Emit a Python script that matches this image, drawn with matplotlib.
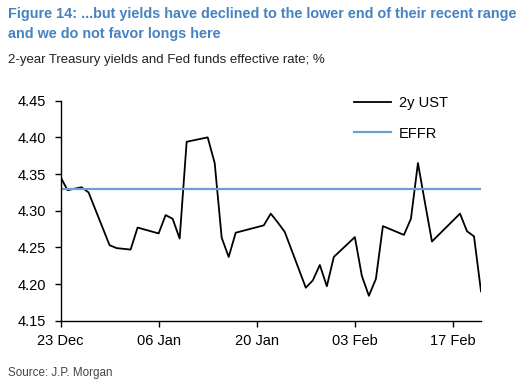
import matplotlib
matplotlib.use("Agg")
import matplotlib.pyplot as plt
import matplotlib.dates as mdates
import pandas as pd

plt.rcParams['font.family'] = ['Liberation Sans', 'DejaVu Sans']

dates = [
    "2024-12-23", "2024-12-24", "2024-12-26", "2024-12-27", "2024-12-30",
    "2024-12-31", "2025-01-02", "2025-01-03", "2025-01-06", "2025-01-07",
    "2025-01-08", "2025-01-09", "2025-01-10", "2025-01-13", "2025-01-14",
    "2025-01-15", "2025-01-16", "2025-01-17", "2025-01-21", "2025-01-22",
    "2025-01-23", "2025-01-24", "2025-01-27", "2025-01-28", "2025-01-29",
    "2025-01-30", "2025-01-31", "2025-02-03", "2025-02-04", "2025-02-05",
    "2025-02-06", "2025-02-07", "2025-02-10", "2025-02-11", "2025-02-12",
    "2025-02-13", "2025-02-14", "2025-02-18", "2025-02-19", "2025-02-20",
    "2025-02-21",
]
ust_2y = [
    4.346, 4.328, 4.332, 4.325, 4.253,
    4.249, 4.247, 4.277, 4.269, 4.294,
    4.289, 4.262, 4.394, 4.400, 4.365,
    4.263, 4.237, 4.270, 4.280, 4.296,
    4.284, 4.271, 4.195, 4.205, 4.226,
    4.197, 4.237, 4.264, 4.211, 4.184,
    4.207, 4.279, 4.267, 4.289, 4.365,
    4.311, 4.258, 4.296, 4.272, 4.265,
    4.190,
]
effr = [4.33] * len(dates)

tick_dates = ["2024-12-23", "2025-01-06", "2025-01-20", "2025-02-03", "2025-02-17"]
y_ticks = [4.15, 4.20, 4.25, 4.30, 4.35, 4.40, 4.45]

x = pd.to_datetime(dates)

fig = plt.figure(figsize=(5.18, 3.79), dpi=100)
ax = fig.add_axes([0.1168, 0.1538, 0.8118, 0.5805])

ax.plot(x, ust_2y, color="black", lw=1.3, label="2y UST")
ax.plot(x, effr, color="#6b9fd1", lw=1.6, label="EFFR")

ax.set_ylim(4.15, 4.45)
ax.set_yticks(y_ticks)
ax.set_yticklabels([f"{v:.2f}" for v in y_ticks])
ax.set_xlim(x[0], x[-1])
ax.set_xticks(pd.to_datetime(tick_dates))
ax.xaxis.set_major_formatter(mdates.DateFormatter("%d %b"))

for s in ["top", "right"]:
    ax.spines[s].set_visible(False)
for s in ["left", "bottom"]:
    ax.spines[s].set_linewidth(1.0)
ax.tick_params(axis="both", direction="out", length=4.5, width=1.0, labelsize=10.5,
               colors="black")
ax.tick_params(axis="x", pad=5)
ax.tick_params(axis="y", pad=6)

leg = ax.legend(loc="upper left", bbox_to_anchor=(0.667, 1.08), frameon=False,
                fontsize=10.5, handlelength=2.5, handletextpad=0.55,
                labelspacing=1.12)

fig.text(0.016, 0.963, "Figure 14: ...but yields have declined to the lower end of their recent range",
         fontsize=10.35, fontweight="bold", color="#4683c0", va="center", ha="left")
fig.text(0.016, 0.911, "and we do not favor longs here",
         fontsize=10.35, fontweight="bold", color="#4683c0", va="center", ha="left")
fig.text(0.016, 0.842, "2-year Treasury yields and Fed funds effective rate; %",
         fontsize=9.55, color="#222222", va="center", ha="left")
fig.text(0.016, 0.016, "Source: J.P. Morgan", fontsize=8.4, color="#444444",
         va="center", ha="left")

fig.savefig("out.png", dpi=100)
